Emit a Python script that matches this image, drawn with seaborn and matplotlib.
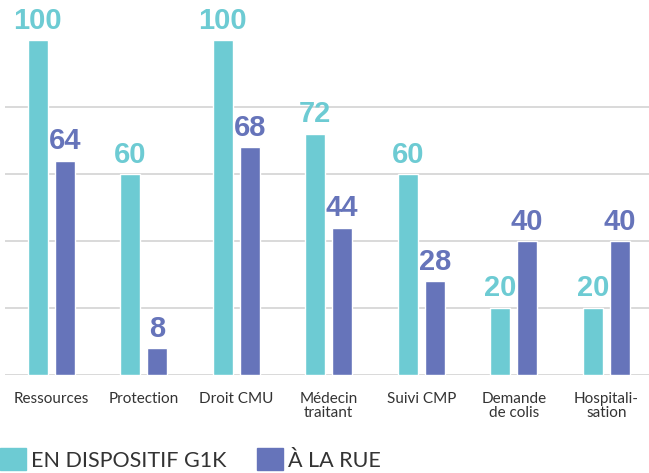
import numpy as np
import pandas as pd
import matplotlib
matplotlib.use("Agg")
import matplotlib.pyplot as plt
import seaborn as sns
from matplotlib.patches import Patch

# data
categories = ["Ressources", "Protection", "Droit CMU", "Médecin\ntraitant",
              "Suivi CMP", "Demande\nde colis", "Hospitali-\nsation"]
g1k_values = [100, 60, 100, 72, 60, 20, 20]
rue_values = [64, 8, 68, 44, 28, 40, 40]
series_names = ["EN DISPOSITIF G1K", "À LA RUE"]
colors = ["#6dcbd3", "#6674ba"]

# long format table for seaborn
df = pd.DataFrame({
    "categorie": categories * 2,
    "valeur": g1k_values + rue_values,
    "groupe": [series_names[0]] * len(categories) + [series_names[1]] * len(categories),
})

sns.set_style("white")
plt.rcParams["font.family"] = ["Lato", "DejaVu Sans"]

fig = plt.figure(figsize=(6.49, 4.73), dpi=100)
ax = fig.add_axes([5 / 649, 98 / 473, 647.5 / 649, 375 / 473])

sns.barplot(data=df, x="categorie", y="valeur", hue="groupe", palette=colors,
            saturation=1, width=0.58, gap=0.26, legend=False, ax=ax)

# value labels above the bars, same colour as the bar
for cont, col in zip(ax.containers, colors):
    ax.bar_label(cont, padding=4, fontsize=21, fontweight="bold", color=col,
                 family=["Liberation Sans", "DejaVu Sans"])

ax.set_xlim(-0.5, 6.5)
ax.set_ylim(0, 112)
ax.set_yticks([0, 20, 40, 60, 80])
ax.set_yticklabels([])
ax.yaxis.grid(True, color="#d3d3d3", linewidth=1.2)
ax.set_axisbelow(True)
ax.tick_params(axis="x", length=0, pad=12, labelsize=11, labelcolor="#333333")
ax.tick_params(axis="y", length=0)
for lbl in ax.get_xticklabels():
    lbl.set_linespacing(1.0)
ax.set_xlabel("")
ax.set_ylabel("")
sns.despine(ax=ax, left=True, bottom=True)

# legend at the bottom left
handles = [Patch(color=c) for c in colors]
fig.legend(handles, series_names, loc="lower left", bbox_to_anchor=(0.0, 0.005),
           ncol=2, frameon=False, fontsize=15.5, handlelength=1.2, handleheight=1.2,
           handletextpad=0.25, columnspacing=1.4, labelcolor="#333333",
           borderaxespad=0, borderpad=0)

fig.savefig("out.png", dpi=100)
